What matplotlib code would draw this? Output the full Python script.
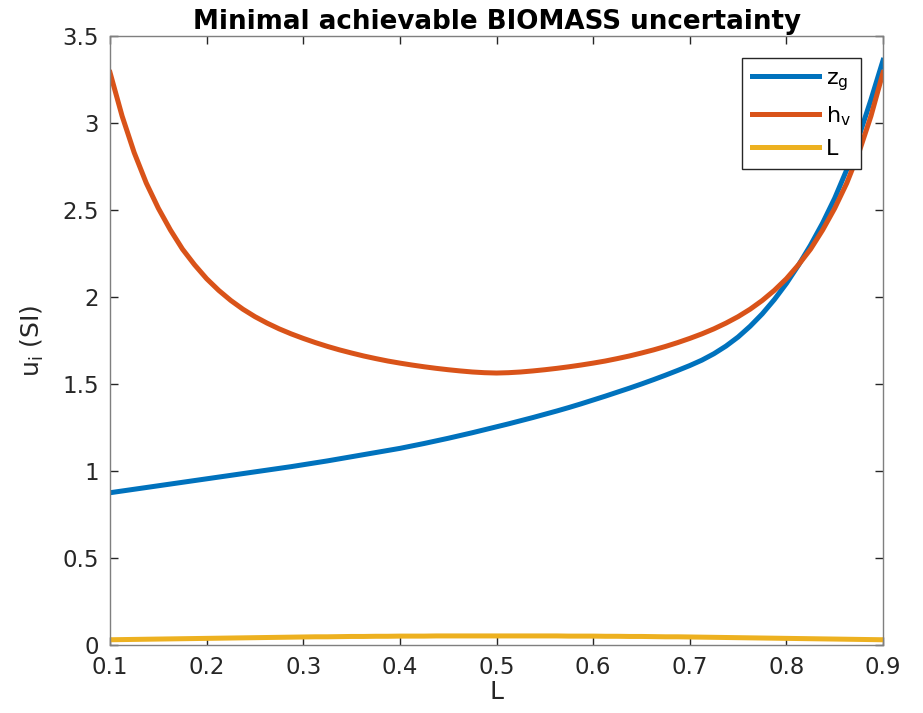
import matplotlib
matplotlib.use("Agg")
import matplotlib.pyplot as plt
from matplotlib.ticker import FormatStrFormatter

# Look fraction L (shared x grid for all three curves, step 0.0125)
L_vals = [0.1, 0.1125, 0.125, 0.1375, 0.15, 0.1625, 0.175, 0.1875,
          0.2, 0.2125, 0.225, 0.2375, 0.25, 0.2625, 0.275, 0.2875,
          0.3, 0.3125, 0.325, 0.3375, 0.35, 0.3625, 0.375, 0.3875,
          0.4, 0.4125, 0.425, 0.4375, 0.45, 0.4625, 0.475, 0.4875,
          0.5, 0.5125, 0.525, 0.5375, 0.55, 0.5625, 0.575, 0.5875,
          0.6, 0.6125, 0.625, 0.6375, 0.65, 0.6625, 0.675, 0.6875,
          0.7, 0.7125, 0.725, 0.7375, 0.75, 0.7625, 0.775, 0.7875,
          0.8, 0.8125, 0.825, 0.8375, 0.85, 0.8625, 0.875, 0.8875,
          0.9]

# Minimal uncertainty of ground elevation z_g
u_zg = [0.875, 0.885, 0.895, 0.905, 0.915, 0.925, 0.935, 0.945,
        0.955, 0.965, 0.975, 0.985, 0.995, 1.005, 1.015, 1.025,
        1.036, 1.047, 1.058, 1.070, 1.082, 1.094, 1.106, 1.118,
        1.130, 1.144, 1.158, 1.173, 1.188, 1.204, 1.220, 1.237,
        1.254, 1.271, 1.289, 1.307, 1.326, 1.345, 1.365, 1.386,
        1.408, 1.430, 1.453, 1.476, 1.500, 1.525, 1.551, 1.578,
        1.606, 1.637, 1.674, 1.718, 1.770, 1.832, 1.903, 1.985,
        2.078, 2.183, 2.298, 2.425, 2.568, 2.732, 2.922, 3.134,
        3.360]

# Minimal uncertainty of vegetation height h_v
u_hv = [3.290, 3.040, 2.830, 2.655, 2.510, 2.385, 2.275, 2.185,
        2.105, 2.038, 1.980, 1.930, 1.887, 1.850, 1.817, 1.788,
        1.762, 1.738, 1.716, 1.696, 1.678, 1.661, 1.646, 1.632,
        1.620, 1.609, 1.599, 1.590, 1.582, 1.575, 1.569, 1.565,
        1.563, 1.565, 1.569, 1.575, 1.582, 1.590, 1.599, 1.609,
        1.620, 1.632, 1.646, 1.661, 1.678, 1.696, 1.716, 1.738,
        1.762, 1.788, 1.817, 1.850, 1.887, 1.930, 1.980, 2.038,
        2.105, 2.185, 2.275, 2.385, 2.510, 2.655, 2.830, 3.040,
        3.290]

# Minimal uncertainty of L itself
u_L = [0.030, 0.031, 0.032, 0.033, 0.034, 0.035, 0.036, 0.037,
       0.038, 0.039, 0.040, 0.041, 0.042, 0.043, 0.044, 0.045,
       0.046, 0.047, 0.047, 0.048, 0.049, 0.049, 0.050, 0.050,
       0.051, 0.051, 0.051, 0.052, 0.052, 0.052, 0.052, 0.052,
       0.052, 0.052, 0.052, 0.052, 0.052, 0.052, 0.051, 0.051,
       0.051, 0.050, 0.050, 0.049, 0.049, 0.048, 0.047, 0.047,
       0.046, 0.045, 0.044, 0.043, 0.042, 0.041, 0.040, 0.039,
       0.038, 0.037, 0.036, 0.035, 0.034, 0.033, 0.032, 0.031,
       0.030]

x_ticks = [0.1, 0.2, 0.3, 0.4, 0.5, 0.6, 0.7, 0.8, 0.9]
y_ticks = [0, 0.5, 1, 1.5, 2, 2.5, 3, 3.5]

plt.rcParams['font.family'] = ['DejaVu Sans']
plt.rcParams['mathtext.default'] = 'regular'

fig = plt.figure(figsize=(9.23, 7.13), dpi=100)
ax = fig.add_axes([0.1192, 0.0954, 0.9567 - 0.1192, 0.9495 - 0.0954])

blue = '#0072BD'
orange = '#D95319'
yellow = '#EDB120'

ax.plot(L_vals, u_zg, color=blue, lw=3.6, label='$z_g$')
ax.plot(L_vals, u_hv, color=orange, lw=3.6, label='$h_v$')
ax.plot(L_vals, u_L, color=yellow, lw=3.6, label='L')

ax.set_xlim(0.1, 0.9)
ax.set_ylim(0, 3.5)
ax.set_xticks(x_ticks)
ax.set_yticks(y_ticks)
ax.xaxis.set_major_formatter(FormatStrFormatter('%g'))
ax.yaxis.set_major_formatter(FormatStrFormatter('%g'))

axis_gray = '#262626'
for s in ax.spines.values():
    s.set_color('#7f7f7f')
    s.set_linewidth(1.0)
ax.tick_params(direction='in', length=6, width=1.0, color=axis_gray,
               top=True, right=True, labelsize=16.5, labelcolor=axis_gray)
ax.tick_params(axis='y', pad=8)
ax.tick_params(axis='x', pad=8)

ax.set_xlabel('L', fontsize=18, color=axis_gray, labelpad=1)
ax.set_ylabel('$u_i$ (SI)', fontsize=18, color=axis_gray, labelpad=12)
ax.set_title('Minimal achievable BIOMASS uncertainty', fontsize=18.8,
             fontweight='bold', color='black', pad=5)

leg = ax.legend(loc='upper right', fontsize=16, handlelength=3.0,
                borderaxespad=1.0, fancybox=False, framealpha=1,
                edgecolor='#262626', labelspacing=0.5, handletextpad=0.3,
                borderpad=0.45)
leg.get_frame().set_linewidth(1.0)

fig.savefig('out.png', dpi=100)
